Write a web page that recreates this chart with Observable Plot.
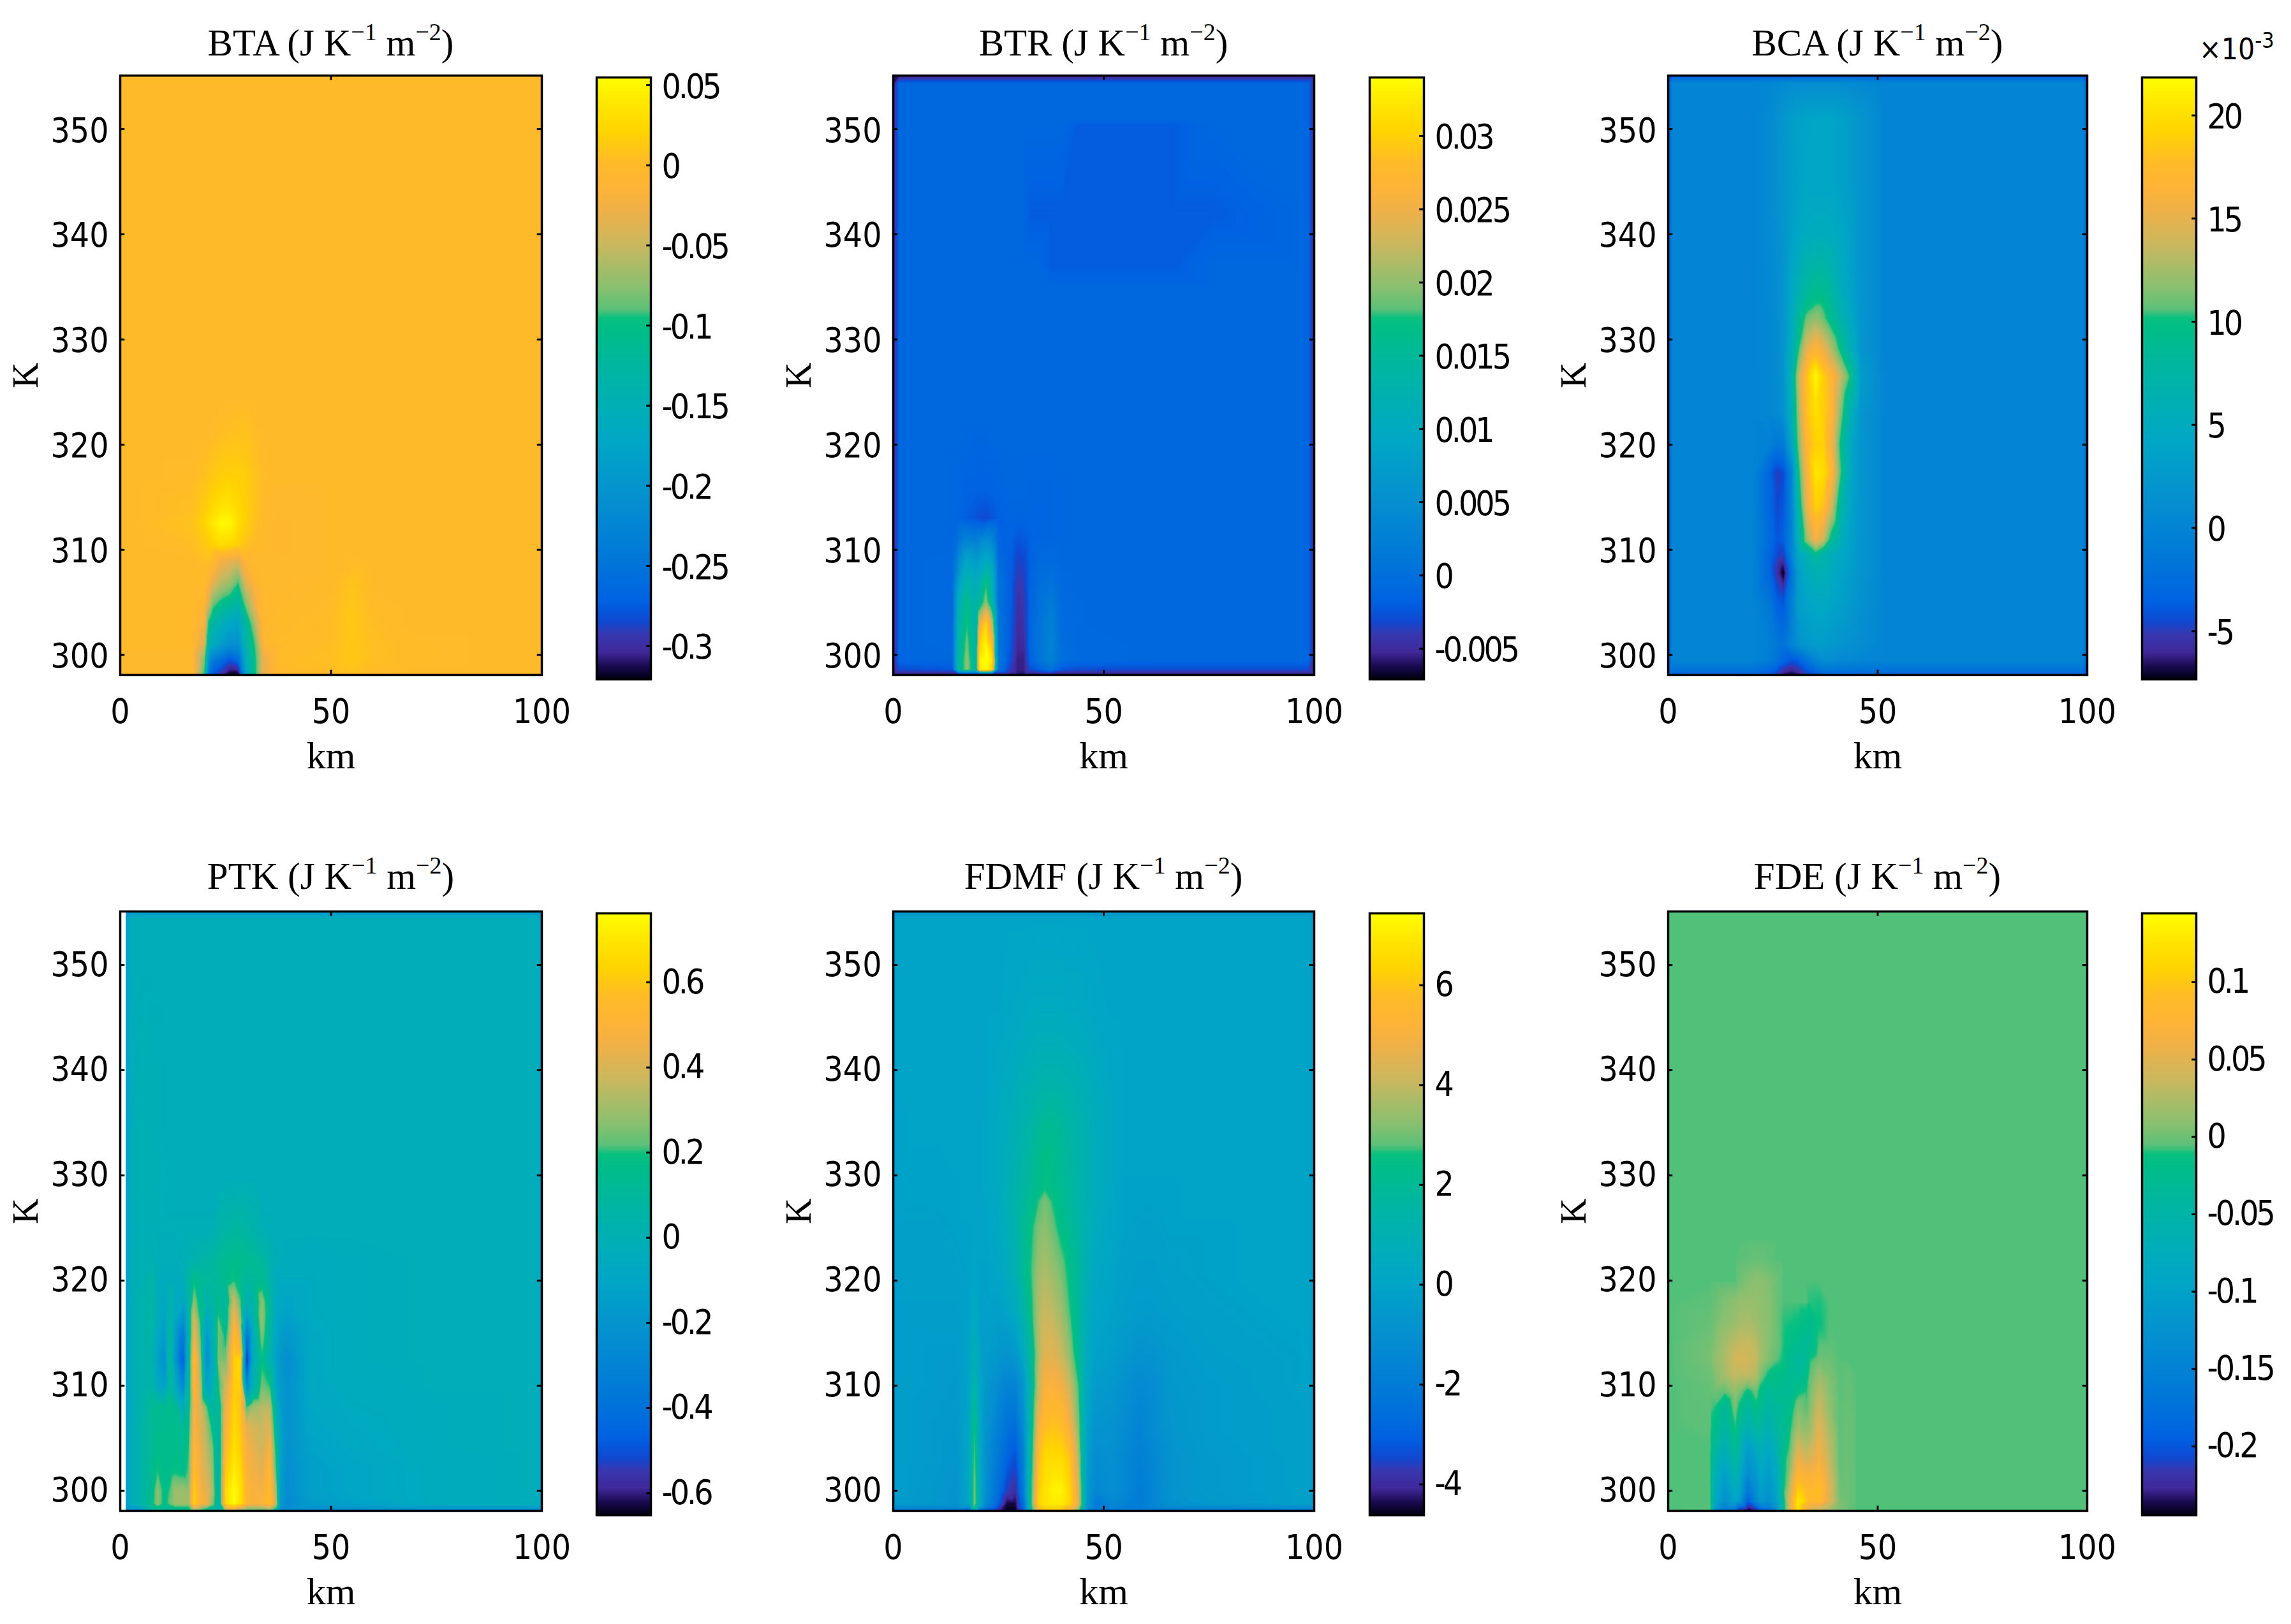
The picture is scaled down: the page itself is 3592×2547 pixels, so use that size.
<!DOCTYPE html>
<html><head><meta charset="utf-8">
<script src="https://cdn.jsdelivr.net/npm/d3@7"></script>
<script src="https://cdn.jsdelivr.net/npm/@observablehq/plot@0.6"></script>
<style>
html,body{margin:0;padding:0;background:#fff;}
#page{position:relative;width:3592px;height:2547px;overflow:hidden;background:#fff;}
#page>svg,#page>div{position:absolute;}
.ttl{font-family:"Liberation Serif",serif;font-size:59px;line-height:70px;text-align:center;white-space:nowrap;color:#000;transform:translateX(-50%);}
.ttl sup{font-size:38px;line-height:0;vertical-align:baseline;position:relative;top:-24px;}
.exp{font-family:"Liberation Sans Narrow","DejaVu Sans Condensed",sans-serif;font-size:46px;line-height:50px;white-space:nowrap;color:#000;}
.exp sup{font-size:34px;line-height:0;vertical-align:baseline;position:relative;top:-18px;}
</style></head><body><div id="page"></div>
<script>
// colormap (fraction from the bottom, colour)
const cmapStops=[0,.022,.045,.075,.095,.13,.2,.3,.4,.5,.58,.6,.615,.65,.72,.78,.82,.86,.91,.96,1];
const cmapColors=["#00000f","#1a0a50","#40289a","#3838b0","#1048d0","#0062e2","#0078d8","#0590d0","#00a8c4","#00b4a8","#00bd88","#08c080","#5cc078","#88c070","#c8b860","#f0b048","#feb436","#ffbb28","#ffd400","#ffe800","#ffff00"];

const yTicks=[300,310,320,330,340,350];
const xTicks=[0,50,100];

// BTA
const btaX=[0,1,17,20,21,22,24,26,28,30,32,34,38,44,50,55,60,70,100];
const btaY=[355.1,325,321,317,314,312.5,310.5,309,307,305,303,301,299.5,298.1];
const btaZ=[ // x 0.001
[0,0,0,0,0,0,0,0,0,0,0,0,0,0,0,0,0,0,0],
[0,0,0,0,0,0,0,0,0,0,0,0,0,0,0,0,0,0,0],
[0,0,0,0,1,2,5,6,7,7,4,1,0,0,0,0,0,0,0],
[0,0,2,6,10,12,16,18,18,15,8,2,0,0,0,0,0,0,0],
[0,0,5,15,20,25,36,36,25,16,8,1,-3,-2,0,0,0,0,0],
[0,0,8,20,30,40,52,50,30,16,6,0,-4,-2,0,0,0,0,0],
[0,0,4,12,15,20,30,26,16,6,1,-1,-4,-2,0,0,0,0,0],
[0,0,1,4,5,0,-22,-28,-36,-8,-2,-1,-3,-2,0,2,0,0,0],
[0,0,0,0,-10,-30,-55,-65,-90,-30,-8,-2,-2,-1,0,8,1,0,0],
[0,0,0,-5,-40,-80,-100,-110,-130,-70,-25,-2,-1,0,2,10,2,0,0],
[0,0,0,-20,-100,-130,-150,-170,-180,-120,-60,-5,0,2,3,12,4,0,0],
[0,0,0,-40,-140,-160,-190,-210,-210,-130,-90,-10,2,3,4,12,5,2,0],
[-3,-3,-3,-80,-200,-240,-260,-280,-260,-150,-100,-30,3,4,5,12,5,2,0],
[-3,-3,-3,-100,-260,-280,-300,-320,-320,-170,-100,-30,-2,2,2,6,2,0,0]];
const btaTicks=[-0.3,-0.25,-0.2,-0.15,-0.1,-0.05,0,0.05];

// BTR
const btrX=[0,1.4,14,15.5,17.5,19.7,20.5,22,23.5,25,28,29.5,31,32.5,35,37.5,40,44,66,76,98.6,100];
const btrY=[355.1,354.3,351,350.4,342,337,335,322,320,316,313,311,309,307,305,303,301,299.5,298.6,298.1];
const btrZ=[ // x 1e-4
[-60,-60,-60,-60,-60,-60,-60,-60,-60,-60,-60,-60,-60,-60,-60,-60,-60,-60,-60,-60,-60,-60],
[-60,-10,-10,-10,-10,-10,-10,-10,-10,-10,-10,-10,-10,-10,-10,-10,-10,-10,-10,-10,-10,-60],
[-60,-10,-10,-10,-10,-10,-10,-10,-10,-10,-10,-10,-10,-10,-10,-10,-10,-10,-10,-10,-10,-60],
[-60,-10,-10,-10,-10,-10,-10,-10,-10,-10,-10,-10,-10,-10,-10,-10,-10,-21,-21,-10,-10,-60],
[-60,-10,-10,-10,-10,-10,-10,-10,-10,-10,-10,-10,-10,-21,-21,-21,-21,-21,-21,-21,-10,-60],
[-60,-10,-10,-10,-10,-10,-10,-10,-10,-10,-10,-10,-10,-10,-10,-21,-21,-21,-21,-10,-10,-60],
[-60,-10,-10,-10,-10,-10,-10,-10,-10,-10,-10,-10,-10,-10,-10,-10,-10,-10,-10,-10,-10,-60],
[-60,-10,-10,-10,-10,-10,-10,-10,-10,-10,-10,-10,-10,-10,-10,-10,-10,-10,-10,-10,-10,-60],
[-60,-10,-10,-10,-10,-13,-13,-13,-10,-10,-10,-10,-10,-10,-10,-10,-10,-10,-10,-10,-10,-60],
[-60,-10,-10,-11,-16,-16,-16,-16,-16,-14,-10,-10,-10,-12,-12,-12,-10,-10,-10,-10,-10,-60],
[-60,-10,-10,-12,-20,-25,-28,-32,-25,-18,-14,-14,-14,-13,-14,-12,-10,-10,-10,-10,-10,-60],
[-60,-10,-10,5,25,20,30,45,30,-12,-16,-25,-22,-16,-12,-12,-10,-10,-10,-10,-10,-60],
[-60,-10,-8,40,90,70,80,100,80,-5,-20,-35,-32,-18,-6,-6,-10,-10,-10,-10,-10,-60],
[-60,-10,-8,75,130,100,120,170,120,5,-20,-40,-38,-15,0,5,-8,-10,-10,-10,-10,-60],
[-60,-10,-8,110,165,120,150,200,140,5,-20,-45,-42,-15,5,15,-6,-9,-10,-10,-10,-60],
[-60,-10,-8,125,175,120,240,305,220,10,-22,-48,-45,-12,8,25,-5,-9,-10,-10,-10,-60],
[-60,-10,-8,140,190,130,300,335,280,10,-25,-52,-50,-12,10,30,-2,-8,-10,-10,-10,-60],
[-60,-12,-10,140,200,130,330,345,320,15,-30,-55,-55,-15,10,25,0,-8,-10,-10,-10,-60],
[-60,-30,-25,140,200,140,320,345,300,5,-40,-55,-55,-30,-15,0,-25,-30,-30,-30,-30,-60],
[-60,-60,-60,-60,-60,-60,-60,-60,-60,-60,-60,-60,-60,-60,-60,-60,-60,-60,-60,-60,-60,-60]];
const btrTicks=[-0.005,0,0.005,0.01,0.015,0.02,0.025,0.03];

// BCA
const bcaX=[0,1,20,24,26,27.5,29.5,31,33,35.2,37,39,41,43.5,46,50,52,99,100];
const bcaY=[355.1,354.4,351,345,340,337,334,332,329,326.5,323,320,317.3,314,311,309.5,307.8,305,301,299.5,298.1];
const bcaZ=[ // x 1e-3
[-4,-4,-4,-4,-4,-4,-4,-4,-4,-4,-4,-4,-4,-4,-4,-4,-4,-4,-4],
[-4,0,0,.3,.5,.8,1,1,1,1,1,1,1,.8,.5,.2,0,0,-4],
[-4,0,0,.6,1.5,2.2,3,3.5,3.8,4,4,4,3.5,3,2,.8,0,0,-4],
[-4,0,0,.6,1.5,2.4,3.2,3.6,4,4,4,4,3.5,3,2,.8,0,0,-4],
[-4,0,0,.6,1.3,2,3.5,4.2,5,5.2,5.2,5,4.5,3.5,2,.8,0,0,-4],
[-4,0,0,.5,1.2,2.2,4,5.5,7,7.5,7.5,6.5,5,3.5,2,.8,0,0,-4],
[-4,0,0,.5,1,2.2,4.5,6.5,8.5,9.5,9.5,8,6,4,2,.8,0,0,-4],
[-4,0,0,.4,1,2,5,8,11,12,11,9,7,4.5,2,.8,0,0,-4],
[-4,0,0,.4,.8,2,5.5,10,15,17,15.5,13,10,6,2,.8,0,0,-4],
[-4,0,0,.3,.8,2,6.5,13,18,21.5,19,17,14,10,3,1,0,0,-4],
[-4,0,0,.3,.7,1.5,6,12,18,20,19,17,12,6,2,.8,0,0,-4],
[-4,0,0,-.5,-1.5,-1,4,11,17,19,19,16,10,4.5,2,.8,0,0,-4],
[-4,0,0,-3,-5,-4.5,0,9,16,20.5,20,17,11,4.5,2,.8,0,0,-4],
[-4,0,0,-3,-4.5,-4,0,7,15,19,18,14,8,4,2,.8,0,0,-4],
[-4,0,0,-2.5,-4,-3.5,0,6,12,16,14,9,6,3.5,2,.8,0,0,-4],
[-4,0,0,-3,-4.5,-5,0,4,6,9,7,5.5,4.5,3.5,2,.8,0,0,-4],
[-4,0,0,-3,-5.5,-7.3,-2,3,5,6,6,5,4,3,2,.8,0,0,-4],
[-4,0,0,-1.5,-3.5,-4,-.5,3,4,4.5,4.5,4,3.5,2.5,1.5,.5,0,0,-4],
[-4,0,0,-.5,-1.5,-2,0,1.5,2.5,3,3,2.5,2,1.5,1,.3,0,0,-4],
[-4,0,0,-.8,-2,-3,-4,-3.5,-2,0,1,1,.5,.5,.3,0,0,0,-4],
[-4,-3,-3,-4,-5,-6.5,-7,-6.5,-5,-4,-3,-3,-3,-3,-3,-3,-3,-3,-4]];
const bcaTicks=[-5,0,5,10,15,20];

// PTK
const ptkX=[1.3,2.5,5,7.4,8.9,10.5,11.9,13,14.9,16.2,17.5,19,20.5,21.8,23.3,25,27,28.5,30,31.5,33.6,35.5,37,38,39.6,45,55,75,98.5,100];
const ptkY=[355.1,354.4,330,325,322,320,318,316,314,312.5,310,308,306,304,302,300,298.8,298.1];
const ptkZ=[ // x 0.01
[-20,-20,-20,-20,-20,-20,-20,-20,-20,-20,-20,-20,-20,-20,-20,-20,-20,-20,-20,-20,-20,-20,-20,-20,-20,-20,-20,-20,-20,-20],
[-15,-3,-3,-3,-3,-3,-3,-3,-3,-3,-3,-3,-3,-3,-3,-3,-3,-3,-3,-3,-3,-3,-3,-3,-3,-3,-3,-3,-3,-10],
[-15,-2,0,0,-1,-2,-3,-3,-3,-3,-3,-3,-3,-3,-3,-3,-3,-3,-3,-3,-3,-3,-3,-3,-3,-3,-3,-3,-3,-10],
[-15,-2,-2,-2,-2,-2,-2,-2,-2,-2,-2,-2,-2,-2,4,6,8,8,6,4,-2,-2,-3,-3,-3,-3,-3,-3,-3,-10],
[-15,-2,0,0,-2,-3,-3,-3,-2,0,3,5,6,8,12,14,15,15,14,13,10,2,-2,-3,-4,-5,-4,-3,-3,-10],
[-15,-2,0,6,-3,-5,-3,-5,-4,8,18,12,10,10,12,14,20,15,10,10,14,6,-5,-6,-6,-6,-4,-3,-3,-10],
[-15,-3,2,8,-3,-8,5,-6,-8,4,28,14,4,8,14,8,38,22,2,6,28,10,-6,-8,-10,-6,-4,-3,-3,-10],
[-15,-3,3,8,-5,-12,8,-10,-25,4,42,20,-10,0,24,10,50,32,-20,0,30,8,-8,-12,-14,-7,-4,-3,-3,-10],
[-15,-3,3,6,-10,-18,12,-15,-40,5,50,25,-20,-5,24,20,58,48,-45,-5,24,5,-10,-16,-20,-8,-4,-3,-3,-10],
[-15,-3,2,4,-12,-22,15,-18,-48,5,58,30,-24,-8,26,25,62,65,-58,-5,18,2,-12,-18,-24,-8,-4,-3,-3,-10],
[-15,-3,2,6,-8,-14,12,-5,-28,8,54,35,-12,0,18,38,62,62,-28,0,24,20,-10,-16,-22,-8,-5,-3,-3,-10],
[-15,-4,4,12,14,13,16,13,-5,12,48,40,22,8,8,45,64,58,20,30,34,34,0,-14,-22,-9,-6,-4,-3,-10],
[-15,-4,6,12,15,14,15,15,12,16,50,42,32,18,5,50,66,60,42,40,37,42,8,-12,-22,-10,-7,-4,-3,-10],
[-15,-4,6,12,16,15,15,16,14,20,54,44,35,26,3,55,68,62,48,44,38,50,15,-10,-22,-12,-8,-4,-3,-10],
[-15,-4,6,13,20,16,16,18,16,22,58,45,38,30,2,60,72,66,50,46,42,54,20,-12,-24,-14,-10,-5,-3,-10],
[-15,-4,6,14,28,16,22,30,30,28,62,48,42,34,2,66,76,68,52,48,47,56,30,-14,-24,-14,-10,-5,-3,-10],
[-15,-4,6,16,28,16,24,30,30,30,64,50,46,30,2,66,76,68,52,48,50,58,36,-18,-26,-16,-12,-5,-3,-10],
[-20,-20,-20,5,10,10,10,10,10,10,30,20,10,5,-5,30,40,25,20,20,20,25,10,-25,-25,-25,-25,-25,-25,-25]];
const ptkTicks=[-0.6,-0.4,-0.2,0,0.2,0.4,0.6];

// FDMF
const fdmX=[0,1,10,15,18.1,19.3,20.6,22,25,27,29,31,33,34.5,36,38,40,42,44,46,48,52,55,58.5,62,66,75,99,100];
const fdmY=[355.1,354.4,346,342,338,335,332,329,327.5,325,321,317,313,310,306,303,300,298.8,298.1];
const fdmZ=[ // x 0.1
[-8,-8,-8,-8,-8,-8,-8,-8,-8,-8,-8,-8,-8,-8,-8,-8,-8,-8,-8,-8,-8,-8,-8,-8,-8,-8,-8,-8,-8],
[-8,0,0,0,0,0,0,0,0,0,0,0,0,0,0,0,0,0,0,0,0,0,0,0,0,0,0,0,-8],
[-8,0,0,0,0,0,0,0,0,1,2,3,4,4,4,4,4,3,3,2,1,0,0,0,0,0,0,0,-8],
[-8,0,0,0,0,0,0,0,2,3,4,6,7,8,8,8,8,7,6,5,3,1,0,0,0,0,0,0,-8],
[-8,0,0,0,0,0,0,0,3,5,7,9,11,13,14,14,13,12,10,8,5,2,0,0,0,0,0,0,-8],
[-8,-1,0,0,0,0,0,1,4,6,9,12,15,18,20,20,18,15,12,9,6,2,0,0,0,0,0,0,-8],
[-8,-1,-1,0,0,0,0,1,4,7,10,14,18,22,24,23,20,16,13,10,6,2,0,0,0,0,0,0,-8],
[-8,-1,-1,-1,0,0,0,1,4,8,12,16,20,23,25,24,21,18,14,10,6,2,-1,-1,-1,-1,0,0,-8],
[-8,-1,-1,-1,0,0,0,0,4,8,13,18,22,27,31,26,22,18,14,10,6,2,-1,-1,-1,-1,0,0,-8],
[-8,-2,-2,-1,-1,0,0,0,3,7,12,20,26,31,33,29,24,20,15,9,5,1,-1,-2,-2,-1,-1,0,-8],
[-8,-2,-2,-2,-1,1,-1,-1,1,5,10,20,28,35,37,34,30,24,18,9,3,0,-2,-3,-3,-2,-1,0,-8],
[-8,-3,-3,-3,-1,4,-1,-2,-2,0,4,14,26,37,41,39,35,27,18,7,1,-1,-3,-4,-4,-3,-2,0,-8],
[-8,-3,-4,-4,0,10,0,-4,-6,-8,-6,4,20,37,45,45,41,33,20,5,-1,-3,-6,-9,-8,-5,-3,-1,-8],
[-8,-3,-4,-5,1,15,1,-6,-12,-16,-16,-6,18,40,51,51,49,41,27,3,-4,-6,-10,-13,-11,-6,-4,-1,-8],
[-8,-3,-5,-6,2,26,2,-8,-18,-24,-26,-12,22,50,58,60,58,50,32,0,-8,-9,-12,-16,-12,-7,-4,-2,-8],
[-8,-3,-5,-7,2,30,2,-9,-22,-30,-34,-16,26,58,66,66,66,60,38,-2,-12,-10,-14,-18,-14,-8,-5,-2,-8],
[-8,-3,-6,-8,2,33,3,-10,-26,-36,-40,-18,30,62,68,72,72,64,44,-4,-14,-11,-14,-20,-15,-8,-5,-2,-8],
[-8,-4,-6,-8,2,34,4,-12,-30,-44,-44,-24,32,64,68,70,70,64,46,-6,-20,-14,-16,-20,-15,-9,-6,-2,-8],
[-20,-20,-20,-20,-30,20,-20,-30,-40,-46,-46,-30,25,50,60,60,60,50,30,-15,-20,-20,-20,-20,-20,-20,-20,-20,-20]];
const fdmTicks=[-4,-2,0,2,4,6];

// FDE
const fdeX=[0,1,10,11,13.5,16,17,19,21,22,24,26,27.5,29,31,33,33.7,36,38.5,41,43,45,100];
const fdeY=[355.1,324,322,320,318,316,314,312.5,311,309.5,308,306,304,302,300,299,298.1];
const fdeZ=[ // x 0.001
[-6,-6,-6,-6,-6,-6,-6,-6,-6,-6,-6,-6,-6,-6,-6,-6,-6,-6,-6,-6,-6,-6,-6],
[-6,-6,-6,-6,-6,-6,-6,-6,-6,-6,-6,-6,-6,-6,-6,-6,-6,-6,-6,-6,-6,-6,-6],
[-6,-6,-6,-6,-6,-6,-5,-4,-2,-2,-4,-6,-6,-6,-6,-6,-6,-6,-6,-6,-6,-6,-6],
[-6,-6,-6,-6,-6,-6,0,6,10,10,6,0,-6,-6,-6,-6,-6,-6,-6,-6,-6,-6,-6],
[-6,-6,-5,-2,6,10,14,15,14,12,8,-1,-6,-6,-6,-6,-9,-10,-6,-6,-6,-6,-6],
[-6,-6,-2,2,10,15,20,22,18,14,8,-1,-9,-10,-12,-18,-25,-12,-6,-6,-6,-6,-6],
[-6,-6,2,6,20,30,35,36,30,20,8,0,-10,-15,-25,-35,-32,-6,-5,-6,-6,-6,-6],
[-6,-6,3,10,24,40,45,42,34,20,6,-5,-12,-25,-40,-35,-12,0,0,-6,-6,-6,-6],
[-6,-6,0,5,20,35,30,32,26,5,-15,-20,-20,-30,-35,-20,-5,15,5,-5,-3,-6,-6],
[-6,-6,-3,0,-3,15,5,-15,0,-18,-35,-25,-30,-35,-15,-10,0,28,8,-5,-2,-6,-6],
[-6,-6,-4,-8,-35,5,-15,-40,-15,-25,-45,-35,-30,-25,5,-5,5,38,12,-5,-1,-6,-6],
[-6,-6,-5,-20,-45,-10,-35,-60,-40,-45,-65,-40,-30,-15,20,10,15,50,22,-5,0,-6,-6],
[-6,-6,-6,-35,-70,-25,-50,-110,-85,-65,-90,-55,-25,-5,45,30,35,60,30,-4,0,-6,-6],
[-6,-6,-6,-55,-100,-50,-75,-130,-110,-85,-105,-75,-20,10,75,60,60,75,40,-2,0,-6,-6],
[-6,-6,-6,-70,-120,-80,-90,-165,-130,-100,-120,-90,-15,35,110,90,85,95,50,0,0,-6,-6],
[-6,-6,-6,-75,-130,-95,-110,-195,-140,-110,-130,-95,-25,50,130,100,85,85,50,5,0,-6,-6],
[-6,-6,-5,-120,-170,-170,-230,-245,-230,-200,-180,-130,-30,40,125,60,40,30,20,5,0,-6,-6]];
const fdeTicks=[-0.2,-0.15,-0.1,-0.05,0,0.05,0.1];

const panels=[
 {name:"BTA",col:0,row:0,xs:btaX,ys:btaY,zs:btaZ,k:.001,lo:-.3208,hi:.0548,ticks:btaTicks},
 {name:"BTR",col:1,row:0,xs:btrX,ys:btrY,zs:btrZ,k:1e-4,lo:-.0071,hi:.034,ticks:btrTicks},
 {name:"BCA",col:2,row:0,xs:bcaX,ys:bcaY,zs:bcaZ,k:1,lo:-7.34,hi:21.84,ticks:bcaTicks},
 {name:"PTK",col:0,row:1,xs:ptkX,ys:ptkY,zs:ptkZ,k:.01,lo:-.652,hi:.762,ticks:ptkTicks},
 {name:"FDMF",col:1,row:1,xs:fdmX,ys:fdmY,zs:fdmZ,k:.1,lo:-4.62,hi:7.44,ticks:fdmTicks},
 {name:"FDE",col:2,row:1,xs:fdeX,ys:fdeY,zs:fdeZ,k:.001,lo:-.2445,hi:.1445,ticks:fdeTicks}
];

const cmap=d3.scaleLinear().domain(cmapStops).range(cmapColors).clamp(true);
const colX=[188,1400,2615], colW=[661,660,657], rowY=[118,1429], barX=[935,2147,3358], titleTop=[32,1339], rowDy=[3,0];
const H=940,barW=85,barH=944,barTop=3;
const tickFont='"Liberation Sans Narrow","DejaVu Sans Condensed","DejaVu Sans",sans-serif';
const labelFont='"Liberation Serif",serif';
const page=document.getElementById("page");

for(const p of panels){
  p.zs.forEach((r,i)=>{if(r.length!==p.xs.length)throw new Error(p.name+" row "+i+" len "+r.length);});
  if(p.zs.length!==p.ys.length)throw new Error(p.name+" rows");
  const points=p.ys.flatMap((y,i)=>p.xs.map((x,j)=>({x,y,z:p.zs[i][j]*p.k})));
  const color={type:"linear",domain:[p.lo,p.hi],interpolate:cmap};
  const [y0,y1]=[298.1,355.1];
  const W=colW[p.col];
  const ml=188,mt=118,mb=170,mr=30;
  const chart=Plot.plot({
    width:ml+W+mr,height:mt+H+mb,marginLeft:ml,marginTop:mt,marginBottom:mb,marginRight:mr,
    style:{background:"transparent",overflow:"visible"},
    x:{domain:[0,100],axis:null},y:{domain:[y0,y1],axis:null},color,
    marks:[
      Plot.raster(points,{x:"x",y:"y",fill:"z",interpolate:"barycentric",x1:p.xs[0],x2:100,y1:y0,y2:y1,pixelSize:1}),
      Plot.ruleY(yTicks,{y:d=>d,x1:0,x2:1.1,stroke:"black",strokeWidth:3}),
      Plot.ruleY(yTicks,{y:d=>d,x1:98.9,x2:100,stroke:"black",strokeWidth:3}),
      Plot.ruleX(xTicks,{x:d=>d,y1:y0,y2:y0+.45,stroke:"black",strokeWidth:3}),
      Plot.ruleX(xTicks,{x:d=>d,y1:y1-.45,y2:y1,stroke:"black",strokeWidth:3}),
      Plot.frame({stroke:"black",strokeWidth:3.5}),
      Plot.axisX(xTicks,{anchor:"bottom",tickSize:0,tickPadding:38,label:null,fontSize:53,fontFamily:tickFont,fill:"black"}),
      Plot.axisY(yTicks,{anchor:"left",tickSize:0,tickPadding:18,dy:rowDy[p.row],label:null,fontSize:53,fontFamily:tickFont,fill:"black"}),
      Plot.text(["km"],{frameAnchor:"bottom",dy:146,fontFamily:labelFont,fontSize:60,fill:"black"}),
      Plot.text(["K"],{frameAnchor:"left",textAnchor:"middle",dx:-147,rotate:-90,fontFamily:labelFont,fontSize:56,fill:"black"})
    ]
  });
  chart.style.left=(colX[p.col]-ml)+"px";
  chart.style.top=(rowY[p.row]-mt)+"px";
  page.appendChild(chart);

  const bar=Plot.plot({
    width:barW+160,height:barH+4,marginLeft:2,marginRight:158,marginTop:2,marginBottom:2,
    style:{background:"transparent",overflow:"visible",letterSpacing:"-4px"},
    x:{domain:[0,1],axis:null},y:{domain:[p.lo,p.hi],axis:null},color,
    marks:[
      Plot.raster({fill:(x,y)=>y,x1:0,x2:1,y1:p.lo,y2:p.hi,pixelSize:1}),
      Plot.ruleY(p.ticks,{y:d=>d,x1:.92,x2:1,stroke:"black",strokeWidth:3}),
      Plot.frame({stroke:"black",strokeWidth:3.5}),
      Plot.axisY(p.ticks,{anchor:"right",tickSize:0,tickPadding:17,dy:rowDy[p.row],label:null,tickFormat:d=>String(d),fontSize:53,fontFamily:tickFont,fill:"black"})
    ]
  });
  bar.style.left=(barX[p.col]-2)+"px";
  bar.style.top=(rowY[p.row]+barTop-2)+"px";
  page.appendChild(bar);

  const t=document.createElement("div");
  t.className="ttl";
  t.innerHTML=p.name+" (J K<sup>\u22121</sup> m<sup>\u22122</sup>)";
  t.style.left=(colX[p.col]+W/2)+"px";
  t.style.top=titleTop[p.row]+"px";
  page.appendChild(t);
}
const e=document.createElement("div");
e.className="exp";
e.innerHTML="\u00d710<sup>-3</sup>";
e.style.left="3448px";e.style.top="52px";
page.appendChild(e);
</script></body></html>
